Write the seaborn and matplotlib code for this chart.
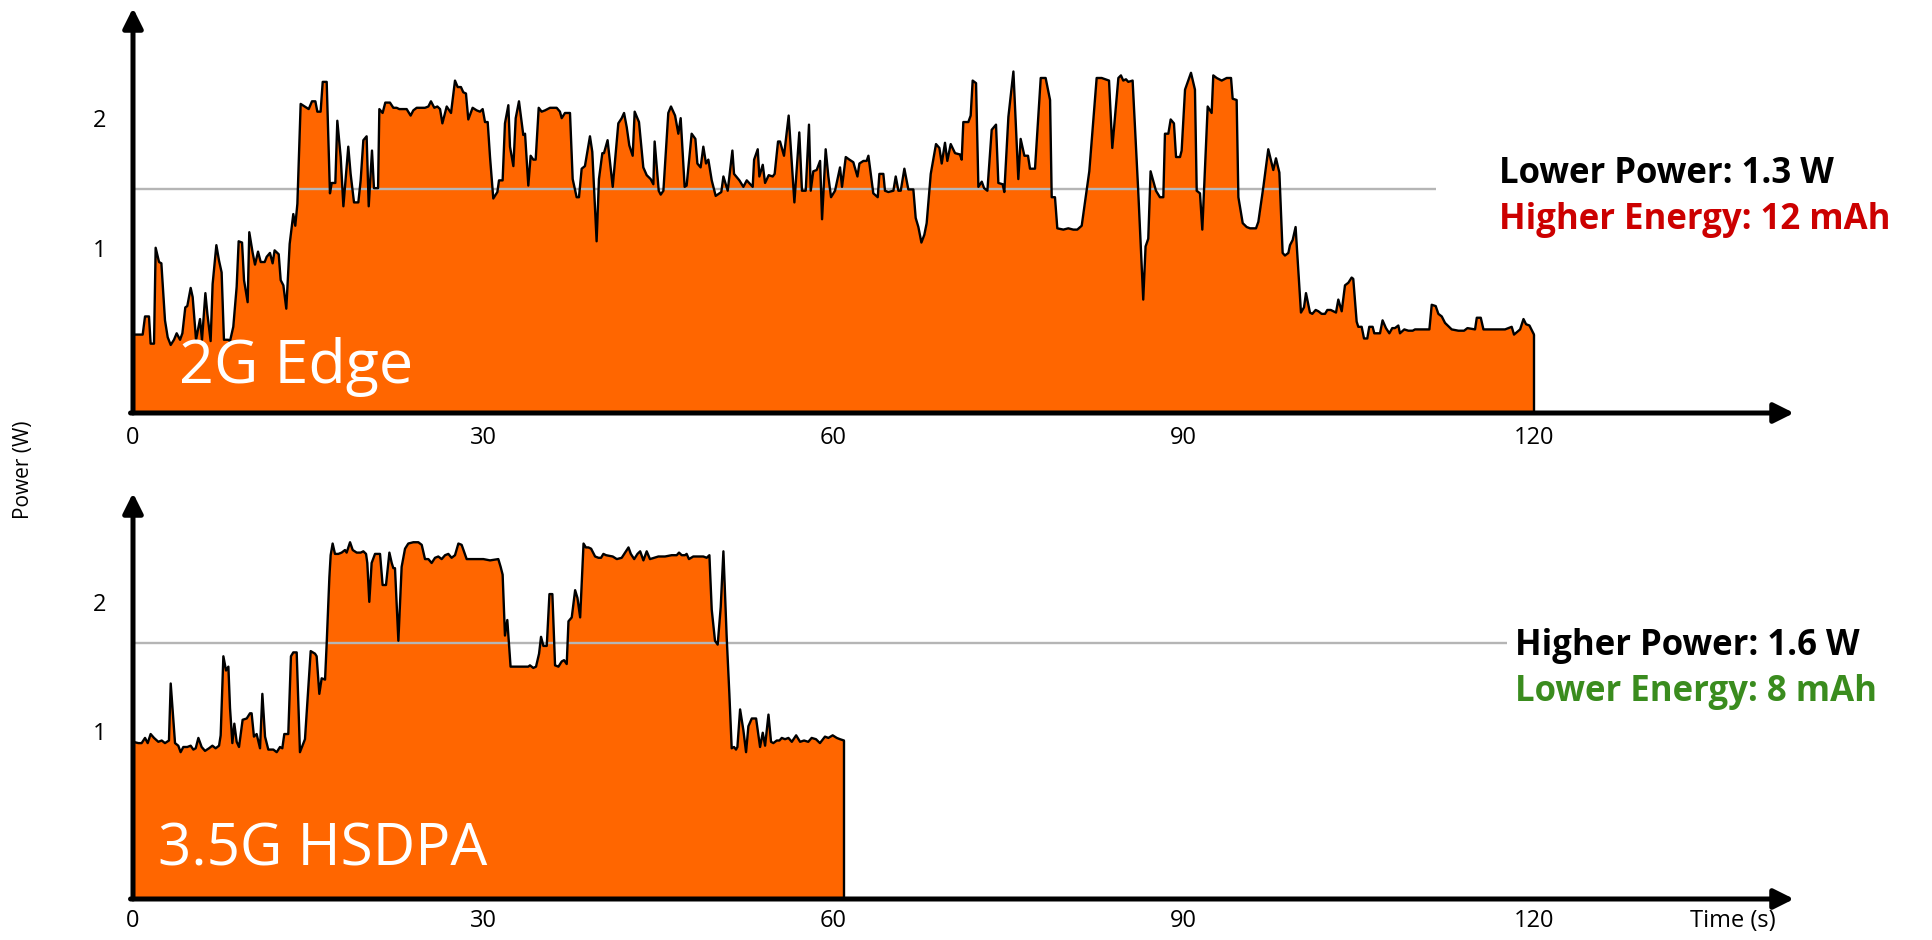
import numpy as np
import pandas as pd
import matplotlib
matplotlib.use("Agg")
import matplotlib.pyplot as plt
import seaborn as sns

# --- power traces (time in s, power in W) ---
edge_t = [0.00, 0.83, 1.03, 1.37, 1.51, 1.80, 1.94, 2.23, 2.43, 2.74, 2.97, 3.23, 3.51, 3.74, 4.03, 4.23,
          4.48, 4.65, 4.94, 5.11, 5.40, 5.74, 5.91, 6.20, 6.37, 6.65, 6.82, 7.14, 7.37, 7.59, 7.79, 8.17,
          8.31, 8.59, 8.88, 9.05, 9.34, 9.51, 9.82, 9.96, 10.25, 10.45, 10.71, 10.94, 11.28, 11.45, 11.73,
          11.96, 12.13, 12.48, 12.65, 12.88, 13.13, 13.42, 13.73, 13.90, 14.08, 14.36, 14.70, 15.05, 15.33,
          15.62, 15.79, 16.07, 16.25, 16.59, 16.87, 17.02, 17.33, 17.50, 17.79, 18.02, 18.44, 18.64, 18.93,
          19.30, 19.50, 19.73, 20.01, 20.19, 20.47, 20.64, 20.99, 21.10, 21.38, 21.61, 22.01, 22.30, 22.58,
          22.81, 23.16, 23.44, 23.78, 24.01, 24.30, 25.01, 25.30, 25.52, 25.81, 26.07, 26.30, 26.50, 26.87,
          27.24, 27.58, 27.81, 28.09, 28.29, 28.52, 28.72, 29.09, 29.44, 29.72, 29.95, 30.15, 30.38, 30.58,
          30.86, 31.21, 31.35, 31.66, 31.86, 32.15, 32.29, 32.58, 32.78, 33.06, 33.43, 33.58, 33.86, 34.06,
          34.29, 34.49, 34.75, 35.00, 35.29, 35.72, 36.29, 36.57, 36.72, 37.00, 37.43, 37.66, 38.00, 38.20,
          38.43, 38.71, 39.14, 39.34, 39.71, 39.91, 40.20, 40.34, 40.65, 41.09, 41.57, 41.86, 42.06, 42.29,
          42.51, 42.80, 42.97, 43.34, 43.71, 44.00, 44.34, 44.57, 44.68, 45.03, 45.20, 45.43, 45.85, 46.08,
          46.43, 46.71, 46.91, 47.25, 47.42, 47.85, 48.17, 48.34, 48.62, 48.85, 49.08, 49.28, 49.57, 49.91,
          50.23, 50.39, 50.57, 50.94, 51.34, 51.48, 51.94, 52.28, 52.57, 53.08, 53.20, 53.51, 53.65, 53.94,
          54.14, 54.45, 54.79, 54.96, 55.25, 55.42, 55.76, 56.16, 56.65, 57.07, 57.30, 57.62, 57.90, 58.05,
          58.27, 58.56, 58.85, 59.02, 59.33, 59.56, 59.79, 60.13, 60.56, 60.73, 61.05, 61.36, 61.70, 61.76,
          62.05, 62.22, 62.56, 62.84, 62.99, 63.41, 63.79, 63.93, 64.27, 64.41, 64.70, 65.13, 65.33, 65.56,
          65.76, 66.07, 66.41, 66.84, 67.04, 67.27, 67.53, 67.78, 67.98, 68.33, 68.78, 69.07, 69.27, 69.55,
          69.75, 70.04, 70.41, 70.83, 70.98, 71.12, 71.55, 71.75, 71.92, 72.21, 72.41, 72.70, 72.90, 73.18,
          73.55, 73.92, 74.12, 74.49, 74.63, 74.98, 75.41, 75.83, 76.03, 76.35, 76.66, 76.83, 77.26, 77.75,
          78.17, 78.55, 78.69, 78.97, 79.17, 79.69, 80.11, 80.54, 80.88, 81.26, 81.91, 82.54, 82.97, 83.60,
          83.88, 84.40, 84.62, 84.82, 85.05, 85.25, 85.62, 86.10, 86.53, 86.73, 86.96, 87.16, 87.62, 87.96,
          88.25, 88.39, 88.68, 88.88, 89.16, 89.34, 89.68, 89.82, 90.11, 90.62, 90.96, 91.11, 91.39, 91.59,
          92.05, 92.39, 92.53, 92.82, 93.25, 93.68, 94.05, 94.19, 94.53, 94.68, 95.05, 95.39, 95.68, 96.19,
          96.39, 96.82, 97.24, 97.67, 97.90, 98.19, 98.47, 98.67, 98.96, 99.10, 99.33, 99.58, 100.04, 100.30,
          100.47, 100.81, 101.01, 101.30, 101.53, 101.81, 102.10, 102.30, 102.59, 103.04, 103.24, 103.53,
          103.81, 104.10, 104.38, 104.52, 104.81, 104.95, 105.24, 105.44, 105.72, 105.89, 106.18, 106.32,
          106.81, 107.03, 107.32, 107.61, 107.86, 108.09, 108.38, 108.52, 108.89, 109.24, 109.61, 109.81,
          111.04, 111.24, 111.58, 111.81, 112.10, 112.38, 112.95, 113.53, 114.01, 114.30, 114.95, 115.10,
          115.44, 115.67, 116.24, 116.52, 116.95, 117.52, 118.09, 118.29, 118.81, 119.10, 119.32, 119.61,
          120.00]
edge_w = [0.33, 0.33, 0.47, 0.47, 0.26, 0.26, 1.00, 0.89, 0.88, 0.44, 0.31, 0.25, 0.29, 0.34, 0.29, 0.34,
          0.54, 0.55, 0.69, 0.62, 0.29, 0.45, 0.29, 0.65, 0.49, 0.28, 0.72, 1.02, 0.90, 0.81, 0.29, 0.29,
          0.28, 0.39, 0.70, 1.05, 1.04, 0.75, 0.58, 1.12, 0.96, 0.87, 0.97, 0.89, 0.89, 0.93, 0.96,
          0.88, 0.98, 0.95, 0.75, 0.71, 0.53, 1.03, 1.26, 1.17, 1.34, 2.11, 2.09, 2.07, 2.13,
          2.13, 2.05, 2.05, 2.28, 2.28, 1.42, 1.50, 1.50, 1.98, 1.70, 1.32, 1.78, 1.57, 1.35,
          1.35, 1.52, 1.83, 1.86, 1.32, 1.75, 1.46, 1.46, 2.07, 2.04, 2.12, 2.12, 2.08, 2.08,
          2.07, 2.07, 2.07, 2.02, 2.06, 2.08, 2.08, 2.09, 2.13, 2.08, 2.09, 2.07, 1.96, 2.09,
          2.04, 2.29, 2.24, 2.24, 2.20, 2.19, 1.99, 2.08, 2.06, 2.05, 2.07, 1.97, 1.97, 1.70,
          1.38, 1.43, 1.52, 1.52, 1.96, 2.10, 1.78, 1.63, 2.00, 2.13, 1.87, 1.88, 1.48, 1.71,
          1.68, 1.68, 2.08, 2.05, 2.06, 2.08, 2.08, 2.05, 2.00, 2.04, 2.04, 1.53, 1.39, 1.39,
          1.61, 1.63, 1.86, 1.74, 1.05, 1.53, 1.73, 1.73, 1.83, 1.47, 1.96, 2.00, 2.04, 1.93,
          1.79, 1.71, 2.05, 1.97, 1.62, 1.56, 1.53, 1.49, 1.82, 1.44, 1.41, 1.44, 2.04, 2.09,
          2.02, 1.88, 2.00, 1.47, 1.48, 1.88, 1.84, 1.65, 1.62, 1.78, 1.65, 1.68, 1.52, 1.40,
          1.42, 1.43, 1.55, 1.44, 1.75, 1.57, 1.52, 1.47, 1.52, 1.47, 1.68, 1.76, 1.55, 1.64,
          1.50, 1.56, 1.55, 1.57, 1.82, 1.82, 1.71, 2.02, 1.35, 1.89, 1.44, 1.44, 1.95, 1.44,
          1.59, 1.60, 1.67, 1.22, 1.76, 1.55, 1.39, 1.44, 1.62, 1.47, 1.70, 1.68, 1.66, 1.64,
          1.55, 1.65, 1.67, 1.67, 1.71, 1.42, 1.39, 1.57, 1.57, 1.44, 1.43, 1.44, 1.55, 1.44,
          1.44, 1.61, 1.45, 1.45, 1.23, 1.16, 1.04, 1.10, 1.19, 1.57, 1.80, 1.77, 1.65, 1.81,
          1.67, 1.80, 1.73, 1.72, 1.68, 1.97, 1.97, 2.02, 2.29, 2.27, 1.47, 1.51, 1.46, 1.44,
          1.91, 1.95, 1.50, 1.49, 1.43, 2.01, 2.36, 1.53, 1.84, 1.71, 1.71, 1.61, 1.61, 2.31,
          2.31, 2.14, 1.39, 1.39, 1.15, 1.14, 1.15, 1.14, 1.14, 1.17, 1.59, 2.31, 2.31, 2.29,
          1.77, 2.31, 2.33, 2.29, 2.30, 2.28, 2.29, 1.44, 0.60, 1.01, 1.07, 1.59, 1.44, 1.39,
          1.39, 1.88, 1.88, 1.99, 1.96, 1.70, 1.70, 1.75, 2.22, 2.35, 2.22, 1.44, 1.42, 1.14,
          2.09, 2.04, 2.33, 2.31, 2.29, 2.31, 2.31, 2.15, 2.14, 1.39, 1.19, 1.16, 1.15, 1.15,
          1.20, 1.47, 1.76, 1.60, 1.69, 1.58, 0.96, 0.94, 0.96, 1.02, 1.06, 1.16, 0.50, 0.54,
          0.65, 0.50, 0.49, 0.52, 0.51, 0.49, 0.49, 0.52, 0.52, 0.50, 0.60, 0.51,
          0.71, 0.73, 0.77, 0.76, 0.43, 0.39, 0.39, 0.30, 0.30, 0.39, 0.39, 0.34,
          0.34, 0.44, 0.38, 0.34, 0.38, 0.38, 0.40, 0.34, 0.37, 0.36, 0.36, 0.37,
          0.37, 0.56, 0.55, 0.49, 0.47, 0.42, 0.37, 0.36, 0.36, 0.38, 0.37, 0.46,
          0.46, 0.37, 0.37, 0.37, 0.37, 0.37, 0.39, 0.33, 0.37, 0.45, 0.41, 0.40,
          0.33]

hsdpa_t = [0.00, 0.46, 0.74, 1.03, 1.26, 1.51, 1.80, 2.17, 2.46, 2.74, 3.08, 3.23, 3.60, 3.88, 4.08, 4.31,
           4.65, 4.94, 5.17, 5.37, 5.60, 5.88, 6.17, 6.51, 6.80, 7.08, 7.37, 7.51, 7.74, 7.97, 8.17, 8.31,
           8.51, 8.68, 8.88, 9.08, 9.39, 9.74, 10.02, 10.16, 10.36, 10.59, 10.88, 11.08, 11.31, 11.59, 12.02,
           12.31, 12.59, 12.79, 12.96, 13.30, 13.53, 13.73, 14.02, 14.30, 14.73, 15.22, 15.59, 15.73, 15.96,
           16.16, 16.45, 16.59, 16.82, 16.93, 17.10, 17.30, 17.59, 17.87, 18.16, 18.30, 18.59, 18.82, 19.16,
           19.50, 19.73, 19.96, 20.07, 20.24, 20.44, 20.73, 21.01, 21.16, 21.38, 21.67, 21.96, 22.16, 22.30,
           22.44, 22.73, 23.01, 23.30, 23.58, 24.01, 24.44, 24.73, 25.01, 25.30, 25.58, 25.87, 26.15, 26.44,
           26.73, 27.01, 27.29, 27.58, 27.87, 28.15, 28.58, 30.01, 30.58, 31.29, 31.49, 31.66, 31.86, 32.06,
           32.34, 33.86, 34.00, 34.29, 34.52, 34.78, 34.95, 35.15, 35.44, 35.67, 35.92, 36.15, 36.44, 36.72,
           36.92, 37.15, 37.30, 37.58, 37.87, 38.07, 38.30, 38.59, 38.79, 39.01, 39.24, 39.58, 39.87, 40.09,
           40.29, 40.52, 41.09, 41.44, 41.86, 42.15, 42.44, 42.64, 42.93, 43.21, 43.44, 43.72, 44.00, 44.28,
           44.63, 45.00, 45.57, 46.14, 46.57, 46.77, 47.00, 47.28, 47.42, 47.62, 47.99, 48.56, 48.85, 49.14,
           49.37, 49.57, 49.85, 50.08, 50.34, 50.57, 50.85, 51.08, 51.28, 51.48, 51.65, 51.77, 52.00, 52.28,
           52.51, 52.71, 53.00, 53.37, 53.71, 53.94, 54.14, 54.43, 54.65, 54.85, 55.14, 55.37, 55.57, 55.85,
           56.14, 56.43, 56.80, 57.14, 57.48, 57.84, 58.13, 58.50, 58.84, 59.27, 59.56, 59.93, 60.28, 60.56,
           60.90]
hsdpa_w = [0.92, 0.91, 0.91, 0.95, 0.91, 0.98, 0.95, 0.92, 0.93, 0.91, 0.93, 1.37, 0.91, 0.89, 0.84, 0.88,
           0.88, 0.89, 0.86, 0.87, 0.95, 0.88, 0.85, 0.87, 0.89, 0.87, 0.89, 0.97, 1.58, 1.47, 1.50, 1.18,
           0.91, 1.06, 0.92, 0.88, 1.09, 1.10, 1.14, 1.14, 0.96, 0.98, 0.87, 1.29, 0.96, 0.86, 0.86,
           0.84, 0.88, 0.87, 0.98, 0.98, 1.58, 1.61, 1.61, 0.84, 0.94, 1.62, 1.60, 1.58, 1.29,
           1.41, 1.40, 1.68, 2.19, 2.36, 2.45, 2.37, 2.37, 2.38, 2.40, 2.38, 2.46, 2.40, 2.38,
           2.38, 2.39, 2.37, 2.30, 2.00, 2.30, 2.37, 2.37, 2.37, 2.13, 2.13, 2.38, 2.30, 2.26,
           2.26, 1.70, 2.27, 2.41, 2.45, 2.46, 2.46, 2.44, 2.33, 2.33, 2.30, 2.34, 2.35, 2.33,
           2.36, 2.37, 2.34, 2.36, 2.45, 2.44, 2.33, 2.33, 2.32, 2.33, 2.27, 2.21, 1.74, 1.86,
           1.50, 1.50, 1.51, 1.49, 1.50, 1.60, 1.73, 1.66, 1.66, 2.06, 2.06, 1.51, 1.50, 1.54,
           1.55, 1.52, 1.85, 1.88, 2.09, 2.03, 1.88, 2.45, 2.42, 2.42, 2.41, 2.35, 2.34, 2.34,
           2.37, 2.36, 2.35, 2.33, 2.34, 2.38, 2.42, 2.37, 2.33, 2.37, 2.39, 2.32, 2.39, 2.33,
           2.34, 2.35, 2.35, 2.36, 2.36, 2.38, 2.36, 2.36, 2.37, 2.33, 2.35, 2.35, 2.35, 2.34,
           2.36, 1.94, 1.70, 1.67, 1.96, 2.39, 1.73, 1.29, 0.87, 0.88, 0.86, 0.88, 1.17, 1.01,
           0.84, 1.04, 1.10, 1.10, 0.88, 0.99, 0.89, 1.13, 0.92, 0.91, 0.93, 0.93, 0.95, 0.94,
           0.95, 0.92, 0.97, 0.92, 0.93, 0.92, 0.95, 0.94, 0.91, 0.96, 0.95, 0.97, 0.95, 0.94,
           0.93]

edge_mean = 1.45     # grey average-power line, 2G
hsdpa_mean = 1.68    # grey average-power line, 3.5G
x_ticks = [0, 30, 60, 90, 120]

ORANGE = "#ff6600"
GREY = "#b5b5b5"

sns.set_theme(style="white")
plt.rcParams["font.family"] = ["Open Sans", "DejaVu Sans"]

fig = plt.figure(figsize=(19.33, 9.40), dpi=100)
W, H = 1933, 940


def panel(rect, t, w, ylim, mean, mean_end, label, label_x, label_size, xtick_pad, extra_ticks=()):
    ax = fig.add_axes(rect)
    df = pd.DataFrame({"t": t, "w": w})
    ax.fill_between(df["t"], df["w"], ylim[0], color=ORANGE, lw=0, zorder=1)
    ax.hlines(mean, 0, mean_end, color=GREY, lw=1.7, zorder=2)
    sns.lineplot(data=df, x="t", y="w", ax=ax, color="black", lw=1.7,
                 estimator=None, sort=False, zorder=3)
    ax.vlines(t[-1], ylim[0], w[-1], color="black", lw=1.7, zorder=3)
    ax.set_xlim(0, 142.27)
    ax.set_ylim(*ylim)
    for s in ax.spines.values():
        s.set_visible(False)
    # axes drawn as arrows
    arrow = dict(arrowstyle="-|>", lw=3.6, color="black", mutation_scale=30,
                 shrinkA=0, shrinkB=0)
    ax.annotate("", xy=(0, 1), xytext=(0, 0), xycoords="axes fraction",
                arrowprops=arrow, annotation_clip=False)
    ax.annotate("", xy=(1, 0), xytext=(-0.0015, 0), xycoords="axes fraction",
                arrowprops=arrow, annotation_clip=False)
    ticks = list(x_ticks) + [e[0] for e in extra_ticks]
    labels = [str(v) for v in x_ticks] + [e[1] for e in extra_ticks]
    ax.set_xticks(ticks, labels)
    ax.set_yticks([1, 2], ["1", "2"])
    ax.tick_params(axis="x", length=0, pad=xtick_pad, labelsize=17, colors="black")
    ax.tick_params(axis="y", length=0, pad=19, labelsize=17, colors="black")
    ax.set_xlabel("")
    ax.set_ylabel("")
    ax.grid(False)
    ax.text(label_x, 0.08, label, color="white", fontsize=label_size, va="center", ha="left", zorder=4)
    return ax


ax1 = panel([133 / W, 527 / H, (1794 - 133) / W, (932 - 527) / H],
            edge_t, edge_w, (-0.275, 2.85), edge_mean, 111.6, "2G Edge", 3.9, 44, 9)
ax2 = panel([133 / W, 41 / H, (1794 - 133) / W, (447 - 41) / H],
            hsdpa_t, hsdpa_w, (-0.293, 2.84), hsdpa_mean, 117.7, "3.5G HSDPA", 2.1, 42, 7,
            extra_ticks=[(137.0, "Time (s)")])

fig.text(24 / W, (H - 470) / H, "Power (W)", rotation=90, fontsize=15,
         ha="center", va="center", color="black")

fig.text(1499 / W, (H - 183) / H, "Lower Power: 1.3 W", fontsize=25, fontweight="bold",
         color="black", ha="left", va="baseline")
fig.text(1499 / W, (H - 229) / H, "Higher Energy: 12 mAh", fontsize=25, fontweight="bold",
         color="#cc0000", ha="left", va="baseline")
fig.text(1515 / W, (H - 655) / H, "Higher Power: 1.6 W", fontsize=25, fontweight="bold",
         color="black", ha="left", va="baseline")
fig.text(1515 / W, (H - 701) / H, "Lower Energy: 8 mAh", fontsize=25, fontweight="bold",
         color="#3a8c1e", ha="left", va="baseline")

fig.savefig("out.png", dpi=100, facecolor="white")
